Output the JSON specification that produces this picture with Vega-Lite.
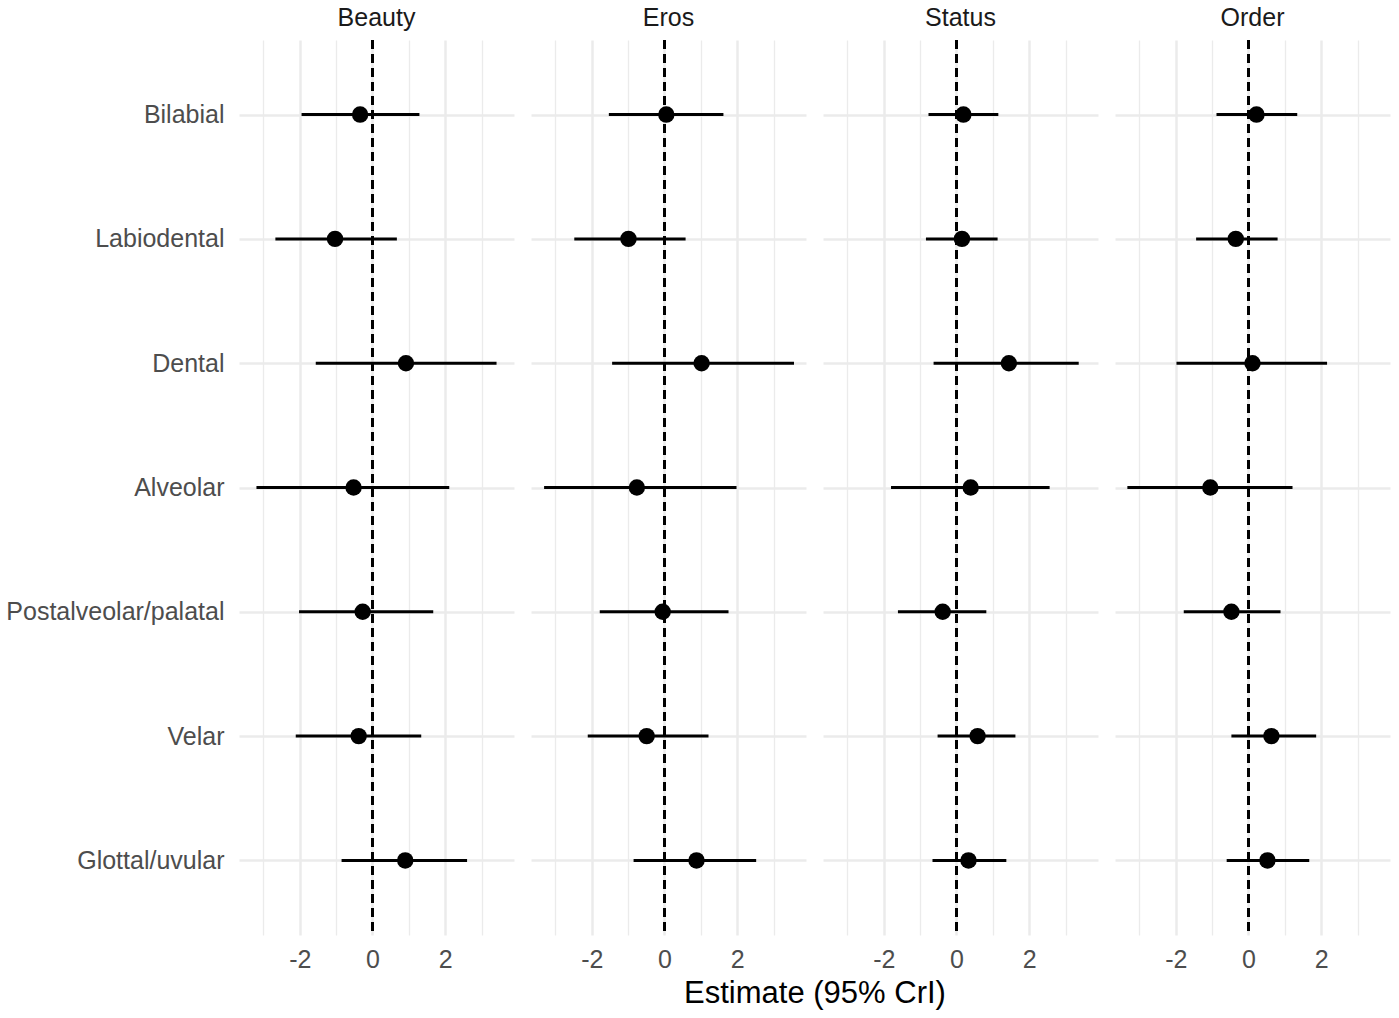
{
  "$schema": "https://vega.github.io/schema/vega-lite/v6.json",
  "padding": {"left": 5, "top": 6, "right": 8, "bottom": 2},
  "data": {
    "values": [
      {"outcome": "Beauty", "place": "Bilabial", "estimate": -0.34, "low": -1.95, "high": 1.29},
      {"outcome": "Beauty", "place": "Labiodental", "estimate": -1.03, "low": -2.67, "high": 0.67},
      {"outcome": "Beauty", "place": "Dental", "estimate": 0.92, "low": -1.56, "high": 3.41},
      {"outcome": "Beauty", "place": "Alveolar", "estimate": -0.52, "low": -3.19, "high": 2.11},
      {"outcome": "Beauty", "place": "Postalveolar/palatal", "estimate": -0.27, "low": -2.02, "high": 1.67},
      {"outcome": "Beauty", "place": "Velar", "estimate": -0.38, "low": -2.11, "high": 1.34},
      {"outcome": "Beauty", "place": "Glottal/uvular", "estimate": 0.9, "low": -0.85, "high": 2.6},
      {"outcome": "Eros", "place": "Bilabial", "estimate": 0.05, "low": -1.53, "high": 1.62},
      {"outcome": "Eros", "place": "Labiodental", "estimate": -0.99, "low": -2.48, "high": 0.58},
      {"outcome": "Eros", "place": "Dental", "estimate": 1.02, "low": -1.44, "high": 3.56},
      {"outcome": "Eros", "place": "Alveolar", "estimate": -0.76, "low": -3.31, "high": 1.98},
      {"outcome": "Eros", "place": "Postalveolar/palatal", "estimate": -0.05, "low": -1.78, "high": 1.76},
      {"outcome": "Eros", "place": "Velar", "estimate": -0.49, "low": -2.11, "high": 1.21},
      {"outcome": "Eros", "place": "Glottal/uvular", "estimate": 0.88, "low": -0.85, "high": 2.52},
      {"outcome": "Status", "place": "Bilabial", "estimate": 0.19, "low": -0.77, "high": 1.15},
      {"outcome": "Status", "place": "Labiodental", "estimate": 0.15, "low": -0.84, "high": 1.13},
      {"outcome": "Status", "place": "Dental", "estimate": 1.44, "low": -0.63, "high": 3.36},
      {"outcome": "Status", "place": "Alveolar", "estimate": 0.39, "low": -1.8, "high": 2.56},
      {"outcome": "Status", "place": "Postalveolar/palatal", "estimate": -0.38, "low": -1.61, "high": 0.82},
      {"outcome": "Status", "place": "Velar", "estimate": 0.58, "low": -0.52, "high": 1.62},
      {"outcome": "Status", "place": "Glottal/uvular", "estimate": 0.33, "low": -0.66, "high": 1.37},
      {"outcome": "Order", "place": "Bilabial", "estimate": 0.22, "low": -0.88, "high": 1.34},
      {"outcome": "Order", "place": "Labiodental", "estimate": -0.35, "low": -1.44, "high": 0.8},
      {"outcome": "Order", "place": "Dental", "estimate": 0.11, "low": -1.98, "high": 2.16},
      {"outcome": "Order", "place": "Alveolar", "estimate": -1.05, "low": -3.33, "high": 1.21},
      {"outcome": "Order", "place": "Postalveolar/palatal", "estimate": -0.47, "low": -1.78, "high": 0.88},
      {"outcome": "Order", "place": "Velar", "estimate": 0.63, "low": -0.47, "high": 1.86},
      {"outcome": "Order", "place": "Glottal/uvular", "estimate": 0.52, "low": -0.6, "high": 1.67}
    ]
  },
  "facet": {
    "column": {
      "field": "outcome",
      "type": "nominal",
      "sort": ["Beauty", "Eros", "Status", "Order"],
      "title": "Estimate (95% CrI)",
      "header": {
        "labelFont": "Liberation Sans",
        "labelFontSize": 25,
        "labelColor": "#1A1A1A",
        "labelPadding": 7,
        "titleOrient": "bottom",
        "titleFont": "Liberation Sans",
        "titleFontSize": 31,
        "titleColor": "#000000",
        "titleFontWeight": "normal",
        "titlePadding": -3
      }
    }
  },
  "spacing": 17,
  "spec": {
    "width": 275,
    "height": 895,
    "encoding": {
      "y": {
        "field": "place",
        "type": "nominal",
        "sort": ["Bilabial", "Labiodental", "Dental", "Alveolar", "Postalveolar/palatal", "Velar", "Glottal/uvular"],
        "scale": {"type": "point", "padding": 0.6},
        "axis": {
          "title": null,
          "labelFontSize": 25,
          "labelColor": "#4D4D4D",
          "labelPadding": 15,
          "labelLimit": 400,
          "grid": true,
          "gridWidth": 2.5
        }
      }
    },
    "layer": [
      {
        "mark": {"type": "rule", "color": "black", "strokeWidth": 2.5, "strokeDash": [9, 5]},
        "encoding": {"x": {"datum": 0, "type": "quantitative"}, "y": null}
      },
      {
        "mark": {"type": "rule", "color": "black", "strokeWidth": 3},
        "encoding": {
          "x": {
            "field": "low",
            "type": "quantitative",
            "scale": {"domain": [-3.67, 3.89], "nice": false, "zero": false},
            "axis": {
              "title": null,
              "values": [-3, -2, -1, 0, 1, 2, 3],
              "labelExpr": "datum.value % 2 === 0 ? toString(datum.value) : ''",
              "labelFontSize": 25,
              "labelColor": "#4D4D4D",
              "labelPadding": 10,
              "grid": true,
              "gridWidth": {"condition": {"test": "datum.value % 2 === 0", "value": 2.5}, "value": 1.3}
            }
          },
          "x2": {"field": "high"}
        }
      },
      {
        "mark": {"type": "circle", "color": "black", "size": 270, "opacity": 1},
        "encoding": {"x": {"field": "estimate", "type": "quantitative"}}
      }
    ]
  },
  "config": {
    "font": "Liberation Sans",
    "view": {"stroke": null},
    "axis": {
      "domain": false,
      "ticks": false,
      "tickSize": 0,
      "gridColor": "#EBEBEB",
      "labelFont": "Liberation Sans",
      "titleFont": "Liberation Sans"
    }
  }
}
